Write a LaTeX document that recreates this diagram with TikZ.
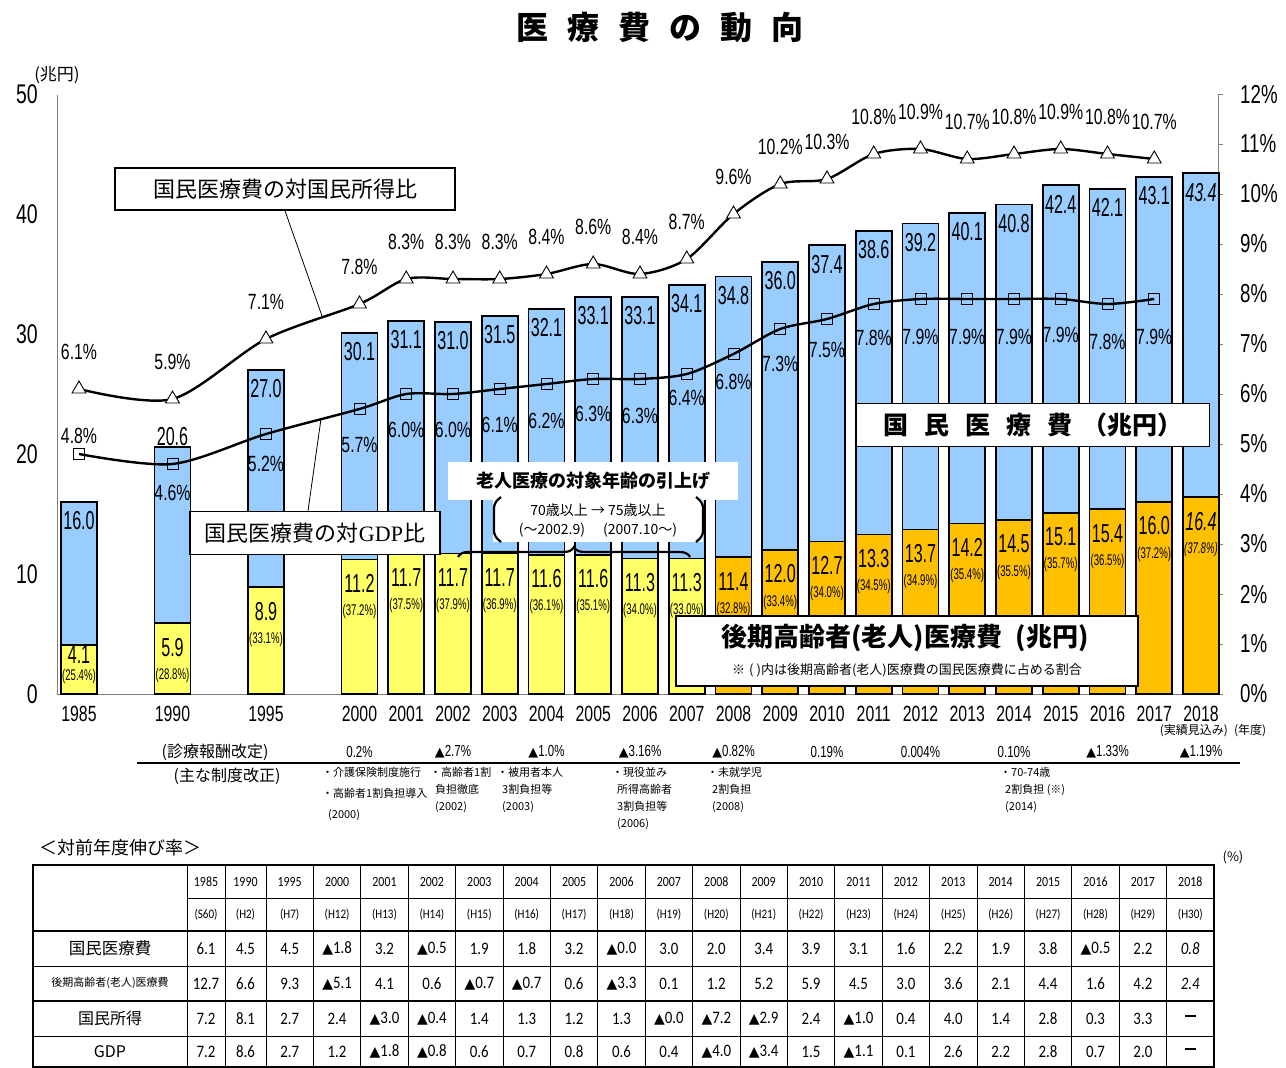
\documentclass[tikz,border=0pt]{standalone}
\usepackage{fontspec}
\setmainfont{Noto Sans CJK JP}
\newfontfamily\jpf{Noto Sans CJK JP}
\newfontfamily\nar{Liberation Sans}[FakeStretch=0.72]
\newfontfamily\narr{Liberation Sans}[FakeStretch=0.62]
\newfontfamily\tabf{Carlito}[FakeStretch=0.85]
\newfontfamily\serf{Liberation Serif}
\newfontfamily\symf{DejaVu Sans}[Scale=0.8]
\usetikzlibrary{positioning,shapes.geometric,decorations.pathreplacing}
\definecolor{barblue}{RGB}{153,204,255}
\definecolor{baryel}{RGB}{255,255,102}
\definecolor{barorg}{RGB}{255,192,0}
\newcommand{\fsz}[1]{\fontsize{#1}{#1}\selectfont}
\newcommand{\tri}{{\symf ▲}}
\newcommand{\nodat}{\rule[0.3em]{11pt}{1.6pt}}
\tikzset{
  totbar/.style={draw=black, line width=1.6pt, fill=barblue},
  oldbar/.style={draw=black, line width=1.6pt},
  barval/.style={font=\narr\fsz{26}, inner sep=0pt},
  barpct/.style={font=\narr\fsz{15.5}, inner sep=0pt},
  rate/.style={font=\nar\fsz{22}, inner sep=0pt},
  axlab/.style={font=\nar\fsz{27}, inner sep=0pt},
  yrlab/.style={font=\nar\fsz{22}, inner sep=0pt},
  ratioline/.style={line width=2.4pt},
  incmark/.style={regular polygon, regular polygon sides=3, draw, fill=white, line width=0.9pt, minimum size=16pt, inner sep=0pt},
  gdpmark/.style={rectangle, draw, line width=0.9pt, minimum size=11pt, inner sep=0pt},
  legbox/.style={draw, line width=1.5pt, fill=white, inner sep=0pt},
  note/.style={anchor=north west, align=left, inner sep=0pt},
  cell/.style={font=\tabf, inner sep=0pt},
}
\begin{document}
\begin{tikzpicture}[x=1pt, y=-1pt]
\useasboundingbox (0,0) rectangle (1286,1068);
% title
\node (title) at (660,27) {\bfseries\fsz{32}医\hspace{19pt}療\hspace{19pt}費\hspace{19pt}の\hspace{19pt}動\hspace{19pt}向};
% axes
\draw[gray, line width=0.8pt] (57,95) -- (57,694) -- (1218,694) -- (1218,95);
\foreach \v in {0,...,5}
  \node[axlab, anchor=east] (ly\v) at (38,{694-120*\v}) {\the\numexpr 10*\v\relax};
\foreach \v in {0,...,12}{
  \draw[gray, line width=0.8pt] (1218,{694-50*\v}) -- (1223,{694-50*\v});
  \node[axlab, anchor=west, font=\nar\fsz{26}] (ry\v) at (1240,{694-50*\v}) {\v\%};
}
\node[inner sep=0pt] (unit) at (57,75) {\fsz{17}(兆円)};
% bars
\foreach \s/\yr/\tot/\old/\pct/\c/\sh in {
  0/1985/16.0/4.1/25.4/baryel/\upshape, 2/1990/20.6/5.9/28.8/baryel/\upshape,
  4/1995/27.0/8.9/33.1/baryel/\upshape, 6/2000/30.1/11.2/37.2/baryel/\upshape,
  7/2001/31.1/11.7/37.5/baryel/\upshape, 8/2002/31.0/11.7/37.9/baryel/\upshape,
  9/2003/31.5/11.7/36.9/baryel/\upshape, 10/2004/32.1/11.6/36.1/baryel/\upshape,
  11/2005/33.1/11.6/35.1/baryel/\upshape, 12/2006/33.1/11.3/34.0/baryel/\upshape,
  13/2007/34.1/11.3/33.0/baryel/\upshape, 14/2008/34.8/11.4/32.8/barorg/\upshape,
  15/2009/36.0/12.0/33.4/barorg/\upshape, 16/2010/37.4/12.7/34.0/barorg/\upshape,
  17/2011/38.6/13.3/34.5/barorg/\upshape, 18/2012/39.2/13.7/34.9/barorg/\upshape,
  19/2013/40.1/14.2/35.4/barorg/\upshape, 20/2014/40.8/14.5/35.5/barorg/\upshape,
  21/2015/42.4/15.1/35.7/barorg/\upshape, 22/2016/42.1/15.4/36.5/barorg/\upshape,
  23/2017/43.1/16.0/37.2/barorg/\upshape, 24/2018/43.4/16.4/37.8/barorg/\itshape}{
  \pgfmathsetmacro\x{79+46.75*\s}
  \pgfmathsetmacro\ty{694-12*\tot+(\s==2 ? -10 : 19)}
  \pgfmathsetmacro\vy{min(694-12*\old+24,655)}
  \pgfmathsetmacro\py{min(694-12*\old+52,676)}
  \draw[totbar] (\x-18,694) rectangle (\x+18,{694-12*\tot});
  \draw[oldbar, fill=\c] (\x-18,694) rectangle (\x+18,{694-12*\old});
  \node[barval] (tv\s) at (\x,\ty) {\sh\tot};
  \node[barval] (ov\s) at (\x,\vy) {\sh\old};
  \node[barpct] (op\s) at (\x,\py) {\sh(\pct\%)};
  \node[yrlab] (yr\s) at (\x,714) {\yr};
}
\node[inner sep=0pt] (est) at (1213,731) {\fsz{12}(実績見込み)\hspace{6pt}(年度)};
% ratio points and labels
\foreach \s/\inc/\gdp/\go in {0/6.1/4.8/-18, 2/5.9/4.6/29, 4/7.1/5.2/30, 6/7.8/5.7/36,
  7/8.3/6.0/36, 8/8.3/6.0/36, 9/8.3/6.1/36, 10/8.4/6.2/37, 11/8.6/6.3/35, 12/8.4/6.3/37,
  13/8.7/6.4/24, 14/9.6/6.8/28, 15/10.2/7.3/35, 16/10.3/7.5/31, 17/10.8/7.8/34,
  18/10.9/7.9/38, 19/10.7/7.9/38, 20/10.8/7.9/38, 21/10.9/7.9/36, 22/10.8/7.8/38,
  23/10.7/7.9/38}{
  \pgfmathsetmacro\x{79+46.75*\s}
  \coordinate (inc\s) at (\x,{694-50*\inc});
  \coordinate (gdp\s) at (\x,{694-50*\gdp});
  \node[rate] (incl\s) at (\x,{694-50*\inc-37}) {\inc\%};
  \node[rate] (gdpl\s) at (\x,{694-50*\gdp+\go}) {\gdp\%};
}
\draw[ratioline] plot[smooth, tension=0.5] coordinates {(inc0) (inc2) (inc4) (inc6) (inc7)
  (inc8) (inc9) (inc10) (inc11) (inc12) (inc13) (inc14) (inc15) (inc16) (inc17) (inc18)
  (inc19) (inc20) (inc21) (inc22) (inc23)};
\draw[ratioline] plot[smooth, tension=0.5] coordinates {(gdp0) (gdp2) (gdp4) (gdp6) (gdp7)
  (gdp8) (gdp9) (gdp10) (gdp11) (gdp12) (gdp13) (gdp14) (gdp15) (gdp16) (gdp17) (gdp18)
  (gdp19) (gdp20) (gdp21) (gdp22) (gdp23)};
\foreach \s in {0,2,4,6,7,8,9,10,11,12,13,14,15,16,17,18,19,20,21,22,23}{
  \node[incmark] (tri\s) at (inc\s) {};
  \node[gdpmark] (sq\s) at (gdp\s) {};
}
% legend boxes
\coordinate (incpt) at (322,316);
\coordinate (gdppt) at (321,419);
\node[legbox, minimum width=340pt, minimum height=42pt] (incbox) at (285,189) {\fsz{22}国民医療費の対国民所得比};
\node[legbox, minimum width=250pt, minimum height=43pt] (gdpbox) at (315,533) {\fsz{22}国民医療費の対{\serf GDP}比};
\draw[line width=0.8pt] (incbox.south) -- (incpt);
\draw[line width=0.8pt] ([xshift=-7pt]gdpbox.north) -- (gdppt);
\node[legbox, minimum width=353pt, minimum height=43pt] (totbox) at (1033,425)
  {\bfseries\fsz{25}国\hspace{16pt}民\hspace{16pt}医\hspace{16pt}療\hspace{16pt}費\hspace{10pt}（兆円）};
\node[legbox, minimum width=462pt, minimum height=70pt] (oldbox) at (907,651) {};
\node[inner sep=0pt] (oldtitle) at (905,638) {\bfseries\fsz{26}後期高齢者(老人)医療費\hspace{14pt}(兆円)};
\node[inner sep=0pt] (oldnote) at (907,670) {\fsz{13}※\hspace{4pt}(\hspace{3pt})内は後期高齢者(老人)医療費の国民医療費に占める割合};
% age change note
\node[fill=white, minimum width=290pt, minimum height=38pt, inner sep=0pt] (agebox) at (593,481)
  {\bfseries\fsz{18}老人医療の対象年齢の引上げ};
\node[fill=white, minimum width=210pt, minimum height=44pt, align=center, inner sep=0pt,
  font=\fontsize{14}{19}\selectfont] (agenote) at (598,520)
  {70歳以上 → 75歳以上\\(～2002.9)\hspace{18pt}(2007.10～)};
\draw[line width=2.2pt, rounded corners=5pt] (501,497) -- (494,503) -- (494,536) -- (501,542);
\draw[line width=2.2pt, rounded corners=5pt] (696,497) -- (703,503) -- (703,536) -- (696,542);
\draw[line width=2.2pt, decorate, decoration={brace, amplitude=10pt}] (458,557) -- (690,557);
% revisions
\node[inner sep=0pt] (feelab) at (215,752) {\fsz{16}(診療報酬改定)};
\node[inner sep=0pt] (reflab) at (227,776) {\fsz{16}(主な制度改正)};
\draw[line width=2pt] (137,763) -- (1240,763);
\foreach \s/\v in {6/0.2\%, 8/\tri2.7\%, 10/\tri1.0\%, 12/\tri3.16\%, 14/\tri0.82\%,
  16/0.19\%, 18/0.004\%, 20/0.10\%, 22/\tri1.33\%, 24/\tri1.19\%}
  \node[inner sep=0pt, font=\nar\fsz{16}] (fee\s) at ({79+46.75*\s},752) {\v};
\node[note, font=\fontsize{11}{21}\selectfont] (ref2000) at (322,767) {・介護保険制度施行\\・高齢者1割負担導入\\\hspace{6pt}(2000)};
\node[note, font=\fontsize{11}{17}\selectfont] (ref2002) at (430,767) {・高齢者1割\\\hspace{5pt}負担徹底\\\hspace{5pt}(2002)};
\node[note, font=\fontsize{11}{17}\selectfont] (ref2003) at (497,767) {・被用者本人\\\hspace{5pt}3割負担等\\\hspace{5pt}(2003)};
\node[note, font=\fontsize{11}{17}\selectfont] (ref2006) at (612,767) {・現役並み\\\hspace{5pt}所得高齢者\\\hspace{5pt}3割負担等\\\hspace{5pt}(2006)};
\node[note, font=\fontsize{11}{17}\selectfont] (ref2008) at (707,767) {・未就学児\\\hspace{5pt}2割負担\\\hspace{5pt}(2008)};
\node[note, font=\fontsize{11}{17}\selectfont] (ref2014) at (1000,767) {・70-74歳\\\hspace{5pt}2割負担 (※)\\\hspace{5pt}(2014)};
% growth table
\node[inner sep=0pt] (tabtitle) at (120,848) {\fsz{18}＜対前年度伸び率＞};
\node[inner sep=0pt] (pct) at (1233,857) {\fsz{13}(\%)};
\draw[line width=2pt] (33,865) rectangle (1214,1067);
\draw[line width=0.8pt] (187,898) -- (1214,898);
\draw[line width=1.8pt] (33,931) -- (1214,931);
\draw[line width=0.8pt] (33,966) -- (1214,966);
\draw[line width=1.8pt] (33,1001) -- (1214,1001);
\draw[line width=0.8pt] (33,1036) -- (1214,1036);
\foreach \b in {187,225,266}
  \draw[line width=0.8pt] (\b,865) -- (\b,1067);
\foreach \k in {1,...,19}
  \draw[line width=0.8pt] ({266+47.4*\k},865) -- ({266+47.4*\k},1067);
\node[inner sep=0pt] (rowa) at (110,948) {\fsz{16.5}国民医療費};
\node[inner sep=0pt] (rowb) at (110,983) {\fsz{11}後期高齢者(老人)医療費};
\node[inner sep=0pt] (rowc) at (110,1018) {\fsz{16}国民所得};
\node[inner sep=0pt] (rowd) at (110,1052) {\fsz{16}GDP};
\foreach \ry/\rs/\row in {
  881.5/14/{1985,1990,1995,2000,2001,2002,2003,2004,2005,2006,2007,2008,2009,2010,2011,2012,2013,2014,2015,2016,2017,2018},
  914.5/13/{(S60),(H2),(H7),(H12),(H13),(H14),(H15),(H16),(H17),(H18),(H19),(H20),(H21),(H22),(H23),(H24),(H25),(H26),(H27),(H28),(H29),(H30)},
  948.5/17.5/{6.1,4.5,4.5,\tri1.8,3.2,\tri0.5,1.9,1.8,3.2,\tri0.0,3.0,2.0,3.4,3.9,3.1,1.6,2.2,1.9,3.8,\tri0.5,2.2,\textit{0.8}},
  983.5/17.5/{12.7,6.6,9.3,\tri5.1,4.1,0.6,\tri0.7,\tri0.7,0.6,\tri3.3,0.1,1.2,5.2,5.9,4.5,3.0,3.6,2.1,4.4,1.6,4.2,\textit{2.4}},
  1018.5/17.5/{7.2,8.1,2.7,2.4,\tri3.0,\tri0.4,1.4,1.3,1.2,1.3,\tri0.0,\tri7.2,\tri2.9,2.4,\tri1.0,0.4,4.0,1.4,2.8,0.3,3.3,\nodat},
  1051.5/17.5/{7.2,8.6,2.7,1.2,\tri1.8,\tri0.8,0.6,0.7,0.8,0.6,0.4,\tri4.0,\tri3.4,1.5,\tri1.1,0.1,2.6,2.2,2.8,0.7,2.0,\nodat}}{
  \foreach \v [count=\i from 0] in \row{
    \pgfmathsetmacro\cx{\i==0 ? 206 : (\i==1 ? 245.5 : 289.7+47.4*(\i-2))}
    \node[cell, font=\tabf\fsz{\rs}] at (\cx,\ry) {\v};
  }
}
\end{tikzpicture}
\end{document}
